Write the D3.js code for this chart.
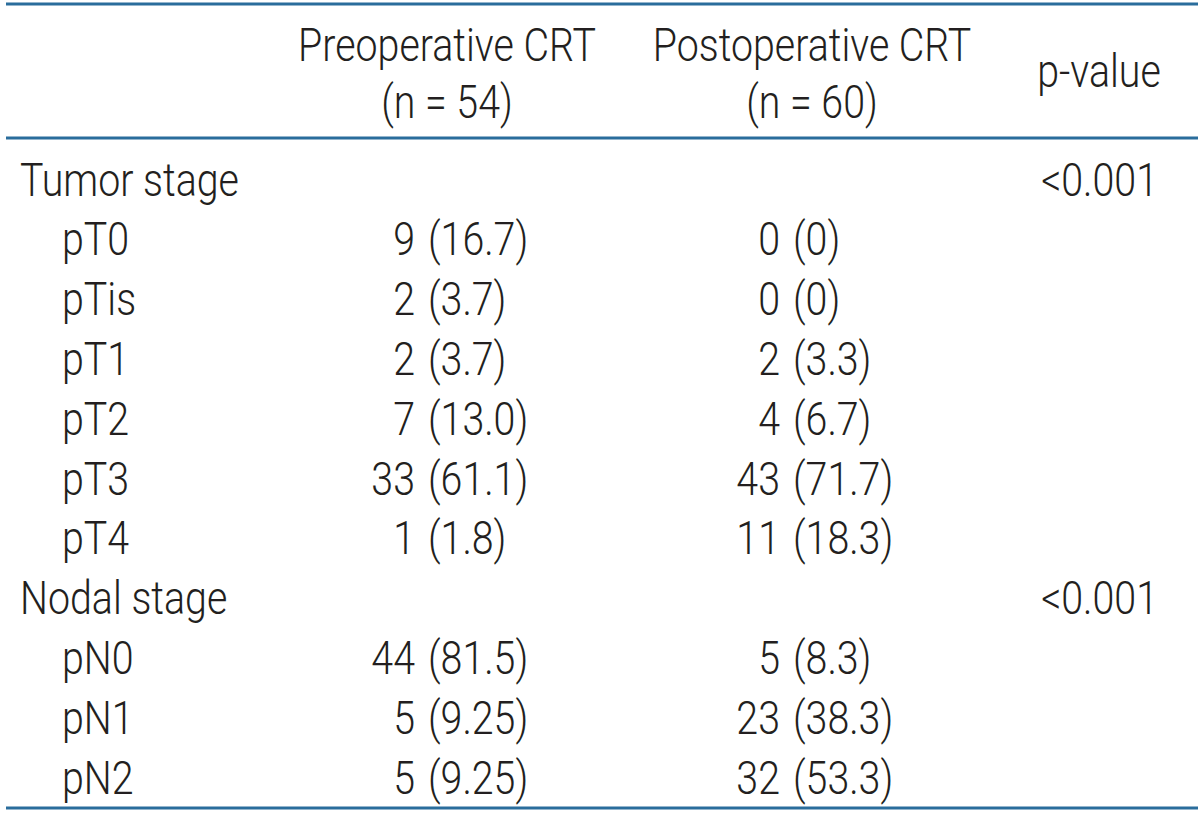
<!DOCTYPE html>
<html>
<head>
<meta charset="utf-8">
<script src="https://cdn.jsdelivr.net/npm/d3@7"></script>
<style>
html,body{margin:0;padding:0;background:#fff;}
svg{display:block;}
</style>
</head>
<body>
<svg id="chart" width="1200" height="819"></svg>
<script>
// ---- data ----
const columnHeaders = ["Preoperative CRT", "Postoperative CRT"];
const columnN = ["(n = 54)", "(n = 60)"];
const pHeader = "p-value";
const groupLabels = ["Tumor stage", "Nodal stage"];
const tumorLabels = ["pT0", "pTis", "pT1", "pT2", "pT3", "pT4"];
const nodalLabels = ["pN0", "pN1", "pN2"];
const preCounts = [9, 2, 2, 7, 33, 1, 44, 5, 5];
const prePct = ["16.7", "3.7", "3.7", "13.0", "61.1", "1.8", "81.5", "9.25", "9.25"];
const postCounts = [0, 0, 2, 4, 43, 11, 5, 23, 32];
const postPct = ["0", "0", "3.3", "6.7", "71.7", "18.3", "8.3", "38.3", "53.3"];
const pValues = ["<0.001", "<0.001"];

// ---- build rows ----
const rows = [];
rows.push({label: groupLabels[0], group: true, p: pValues[0]});
tumorLabels.forEach((l, i) => rows.push({label: l, group: false, pre: [preCounts[i], prePct[i]], post: [postCounts[i], postPct[i]]}));
rows.push({label: groupLabels[1], group: true, p: pValues[1]});
nodalLabels.forEach((l, j) => { const i = j + tumorLabels.length; rows.push({label: l, group: false, pre: [preCounts[i], prePct[i]], post: [postCounts[i], postPct[i]]}); });

const W = 1200, H = 819;
const svg = d3.select("#chart");
const font = "Roboto, 'Noto Sans', sans-serif";
const fw = 300;
const fs = 46;
const textColor = "#231f20";
const lineColor = "#2a6d9c";

const y = d3.scalePoint().domain(d3.range(rows.length)).range([179, 777]);
const capHalf = 16.5;

// measure to compute horizontal condensing
const probe = svg.append("text").attr("font-family", font).attr("font-weight", fw).attr("font-size", fs).text(groupLabels[0]);
const probeW = probe.node().getComputedTextLength();
probe.remove();
const sx = 219 / probeW;

function put(g, str, x, yy, anchor) {
  g.append("text")
    .attr("transform", `translate(${x},${yy}) scale(${sx},1)`)
    .attr("text-anchor", anchor)
    .attr("font-family", font)
    .attr("font-weight", fw)
    .attr("font-size", fs)
    .attr("fill", textColor)
    .text(str);
}

// rules
const x = d3.scaleLinear().domain([0, 1]).range([6, 1198]);
[4, 138, 808].forEach(ly => {
  svg.append("line").attr("x1", x(0)).attr("x2", x(1)).attr("y1", ly).attr("y2", ly)
    .attr("stroke", lineColor).attr("stroke-width", 2.8);
});

const g = svg.append("g");
// header
const colCenters = [447, 812];
columnHeaders.forEach((h, i) => {
  put(g, h, colCenters[i], 44 + capHalf, "middle");
  put(g, columnN[i], colCenters[i], 101 + capHalf, "middle");
});
put(g, pHeader, 1099, 70 + capHalf, "middle");

// body
const countRight = [415, 780];
const pctLeft = [428, 793];
rows.forEach((r, i) => {
  const yy = y(i) + capHalf;
  put(g, r.label, r.group ? 20 : 62, yy, "start");
  if (r.group) {
    put(g, r.p, 1158, yy, "end");
  } else {
    [r.pre, r.post].forEach((v, c) => {
      put(g, String(v[0]), countRight[c], yy, "end");
      put(g, "(" + v[1] + ")", pctLeft[c], yy, "start");
    });
  }
});
</script>
</body>
</html>
